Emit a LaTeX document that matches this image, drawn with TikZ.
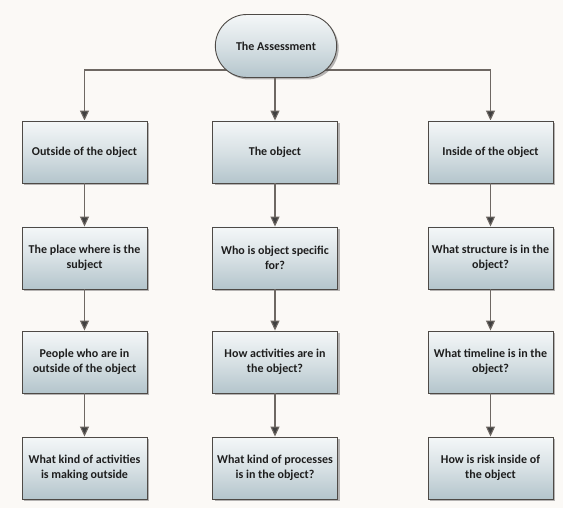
\documentclass[tikz,border=0pt]{standalone}
\usepackage{fontspec}
\setmainfont{Carlito}
\usetikzlibrary{shadows,arrows.meta,shapes.misc,backgrounds}
\definecolor{paper}{HTML}{FBF9F6}
\definecolor{boxtop}{HTML}{F4F7F8}
\definecolor{boxbottom}{HTML}{B4C5CC}
\definecolor{edge}{HTML}{4E4A46}
\definecolor{wire}{HTML}{6E6863}
\definecolor{ink}{HTML}{1E1E1E}
\tikzset{
  card/.style={rectangle, draw=edge, line width=0.9pt,
    top color=boxtop, bottom color=boxbottom, middle color=boxtop!55!boxbottom,
    minimum width=125pt, minimum height=62pt, align=center, text=ink,
    font=\fontsize{12}{14.5}\selectfont\bfseries,
    drop shadow={shadow xshift=2pt, shadow yshift=-2pt, fill=black!70, opacity=0.4}},
  pill/.style={card, rounded rectangle, minimum width=128pt, minimum height=63pt},
  link/.style={draw=wire, line width=1.1pt,
    -{Triangle[width=9pt,length=10pt,fill=ink!85]}}
}
\begin{document}
\begin{tikzpicture}[x=1pt,y=-1pt]
  \useasboundingbox (0,0) rectangle (563,508);

  % root
  \node[pill] (root) at (276,46) {The Assessment};

  % left column
  \node[card] (l1) at (84.5,152) {Outside of the object};
  \node[card] (l2) at (84.5,258) {The place where is the\\subject};
  \node[card] (l3) at (84.5,362) {People who are in\\outside of the object};
  \node[card] (l4) at (84.5,468) {What kind of activities\\is making outside};

  % middle column
  \node[card] (m1) at (275,152) {The object};
  \node[card] (m2) at (275,258) {Who is object specific\\for?};
  \node[card] (m3) at (275,362) {How activities are in\\the object?};
  \node[card] (m4) at (275,468) {What kind of processes\\is in the object?};

  % right column
  \node[card] (r1) at (490.5,152) {Inside of the object};
  \node[card] (r2) at (490.5,258) {What structure is in the\\object?};
  \node[card] (r3) at (490.5,362) {What timeline is in the\\object?};
  \node[card] (r4) at (490.5,468) {How is risk inside of\\the object};

  \coordinate (split) at ([yshift=-24pt]root.center);

  \begin{pgfonlayer}{background}
    \fill[paper] (0,0) rectangle (563,508);
    \draw[link] (split) -| (l1.north);
    \draw[link] (split) -| (r1.north);
  \end{pgfonlayer}
  \draw[link] (root.south -| m1.north) -- (m1.north);

  \foreach \c in {l,m,r}{
    \draw[link] (\c1) -- (\c2);
    \draw[link] (\c2) -- (\c3);
    \draw[link] (\c3) -- (\c4);
  }
\end{tikzpicture}
\end{document}
